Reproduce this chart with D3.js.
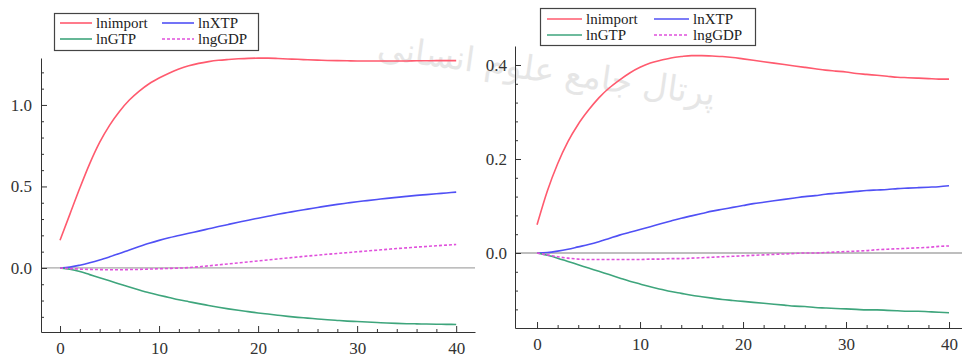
<!DOCTYPE html>
<html>
<head>
<meta charset="utf-8">
<script src="https://cdn.jsdelivr.net/npm/d3@7/dist/d3.min.js"></script>
<style>
  html, body { margin: 0; padding: 0; background: #fff; }
  svg { display: block; }
</style>
</head>
<body>
<div id="app"></div>
<script>
// impulse responses, periods 0..40
const periods = d3.range(0, 41);
const seriesNames = ["lnimport", "lnXTP", "lnGTP", "lngGDP"];

// left panel
const leftImport = [0.17, 0.33, 0.49, 0.64, 0.77, 0.875, 0.96, 1.03, 1.085, 1.13, 1.165, 1.195, 1.22, 1.24, 1.255, 1.266, 1.274, 1.279, 1.283, 1.286, 1.287, 1.287, 1.285, 1.282, 1.28, 1.277, 1.275, 1.273, 1.272, 1.271, 1.27, 1.27, 1.27, 1.27, 1.27, 1.27, 1.271, 1.271, 1.272, 1.272, 1.272];
const leftXTP = [0, 0.005, 0.017, 0.032, 0.049, 0.068, 0.088, 0.11, 0.131, 0.151, 0.169, 0.185, 0.199, 0.213, 0.226, 0.24, 0.254, 0.267, 0.28, 0.293, 0.305, 0.317, 0.329, 0.34, 0.351, 0.361, 0.371, 0.381, 0.39, 0.398, 0.406, 0.413, 0.42, 0.427, 0.433, 0.439, 0.445, 0.45, 0.455, 0.46, 0.465];
const leftGTP = [0, -0.008, -0.022, -0.041, -0.06, -0.079, -0.098, -0.117, -0.135, -0.152, -0.167, -0.181, -0.195, -0.207, -0.219, -0.23, -0.241, -0.251, -0.26, -0.268, -0.276, -0.283, -0.29, -0.297, -0.303, -0.308, -0.313, -0.318, -0.322, -0.326, -0.329, -0.332, -0.335, -0.338, -0.34, -0.342, -0.343, -0.344, -0.345, -0.346, -0.347];
const leftGDP = [0, -0.004, -0.007, -0.009, -0.01, -0.011, -0.011, -0.01, -0.009, -0.007, -0.005, -0.003, -0.001, 0.002, 0.007, 0.013, 0.019, 0.025, 0.031, 0.037, 0.043, 0.049, 0.055, 0.061, 0.067, 0.073, 0.078, 0.084, 0.089, 0.094, 0.099, 0.104, 0.109, 0.114, 0.119, 0.123, 0.128, 0.132, 0.136, 0.14, 0.144];

// right panel
const rightImport = [0.06, 0.132, 0.19, 0.237, 0.274, 0.304, 0.33, 0.351, 0.368, 0.383, 0.395, 0.404, 0.41, 0.415, 0.418, 0.42, 0.42, 0.419, 0.418, 0.416, 0.413, 0.41, 0.407, 0.404, 0.401, 0.398, 0.395, 0.392, 0.389, 0.387, 0.385, 0.382, 0.38, 0.378, 0.376, 0.374, 0.373, 0.372, 0.371, 0.37, 0.37];
const rightXTP = [0, 0.001, 0.004, 0.008, 0.013, 0.018, 0.024, 0.031, 0.038, 0.044, 0.05, 0.056, 0.062, 0.068, 0.074, 0.079, 0.084, 0.089, 0.093, 0.097, 0.101, 0.105, 0.108, 0.111, 0.114, 0.117, 0.12, 0.122, 0.125, 0.127, 0.129, 0.131, 0.133, 0.134, 0.135, 0.137, 0.138, 0.139, 0.14, 0.141, 0.143];
const rightGTP = [0, -0.005, -0.011, -0.018, -0.025, -0.032, -0.039, -0.046, -0.053, -0.06, -0.066, -0.072, -0.077, -0.082, -0.086, -0.09, -0.093, -0.096, -0.099, -0.101, -0.103, -0.105, -0.107, -0.109, -0.111, -0.113, -0.114, -0.116, -0.117, -0.118, -0.119, -0.12, -0.121, -0.121, -0.122, -0.123, -0.124, -0.124, -0.125, -0.126, -0.127];
const rightGDP = [0, -0.004, -0.008, -0.011, -0.013, -0.014, -0.014, -0.014, -0.014, -0.014, -0.014, -0.013, -0.013, -0.012, -0.012, -0.011, -0.01, -0.009, -0.008, -0.007, -0.006, -0.005, -0.004, -0.003, -0.002, -0.001, 0, 0, 0.001, 0.002, 0.003, 0.004, 0.005, 0.007, 0.008, 0.009, 0.01, 0.011, 0.012, 0.014, 0.015];

// ticks
const xTicks = [0, 10, 20, 30, 40];
const xMinor = [2, 4, 6, 8, 12, 14, 16, 18, 22, 24, 26, 28, 32, 34, 36, 38];
const leftYTicks = [0, 0.5, 1.0];
const leftYMinor = [-0.3, -0.2, -0.1, 0.1, 0.2, 0.3, 0.4, 0.6, 0.7, 0.8, 0.9, 1.1, 1.2];
const rightYTicks = [0, 0.2, 0.4];
const rightYMinor = [-0.12, -0.08, -0.04, 0.04, 0.08, 0.12, 0.16, 0.24, 0.28, 0.32, 0.36];

const colors = ["#ff5a6e", "#5050f5", "#3ea57c", "#e050dc"];
const dashes = [null, null, null, "3,2"];
const serif = "'Liberation Serif', 'Times New Roman', Times, serif";

const width = 962, height = 359;

const svg = d3.select("#app").append("svg")
  .attr("width", width)
  .attr("height", height)
  .attr("viewBox", [0, 0, width, height]);

// faint watermark from the scanned source
svg.append("text")
  .attr("x", 545).attr("y", 82)
  .attr("transform", "rotate(8,545,82)")
  .attr("text-anchor", "middle")
  .style("font-family", "'DejaVu Sans', sans-serif")
  .attr("font-size", 34)
  .attr("fill", "#dadada")
  .attr("opacity", 0.65)
  .text("پرتال جامع علوم انسانی");

const panels = [
  {
    series: [leftImport, leftXTP, leftGTP, leftGDP],
    xDomain: [-1.92, 41.9], xRange: [41, 475],
    yDomain: [-0.393, 1.288], yRange: [332, 58],
    yTicks: leftYTicks, yMinor: leftYMinor, labelPad: 9,
    legend: { x: 54, y: 13, w: 204, h: 37, rows: [23, 39], cols: [60, 162], line: 32 }
  },
  {
    series: [rightImport, rightXTP, rightGTP, rightGDP],
    xDomain: [-2.14, 41.26], xRange: [515, 962],
    yDomain: [-0.1596, 0.4404], yRange: [328, 46],
    yTicks: rightYTicks, yMinor: rightYMinor, labelPad: 8,
    legend: { x: 540, y: 8, w: 215, h: 37, rows: [19, 35], cols: [547, 654], line: 35 }
  }
];

function styleAxis(g) {
  g.selectAll("path, line").attr("stroke", "#333");
  g.selectAll("text")
    .attr("fill", "#333")
    .style("font-family", serif)
    .style("font-size", "17px");
}

panels.forEach((p) => {
  const x = d3.scaleLinear().domain(p.xDomain).range(p.xRange);
  const y = d3.scaleLinear().domain(p.yDomain).range(p.yRange);
  const g = svg.append("g");

  // zero reference line
  g.append("line")
    .attr("x1", p.xRange[0]).attr("x2", p.xRange[1])
    .attr("y1", y(0)).attr("y2", y(0))
    .attr("stroke", "#a8a8a8")
    .attr("stroke-width", 1.3);

  const line = d3.line()
    .x((d, i) => x(periods[i]))
    .y((d) => y(d))
    .curve(d3.curveMonotoneX);

  g.selectAll("path.series")
    .data(p.series)
    .join("path")
    .attr("class", "series")
    .attr("fill", "none")
    .attr("stroke", (d, i) => colors[i])
    .attr("stroke-width", 1.6)
    .attr("stroke-dasharray", (d, i) => dashes[i])
    .attr("d", line);

  // axes: minor ticks, then labelled majors
  g.append("g")
    .attr("transform", `translate(0,${p.yRange[0]})`)
    .call(d3.axisBottom(x).tickValues(xMinor).tickSize(-3).tickSizeOuter(0).tickFormat(""))
    .call(styleAxis);
  g.append("g")
    .attr("transform", `translate(0,${p.yRange[0]})`)
    .call(d3.axisBottom(x).tickValues(xTicks).tickSize(-6).tickSizeOuter(0).tickPadding(10).tickFormat(d3.format("d")))
    .call(styleAxis)
    .call((a) => a.select(".domain").remove());

  g.append("g")
    .attr("transform", `translate(${p.xRange[0]},0)`)
    .call(d3.axisLeft(y).tickValues(p.yMinor).tickSize(-3).tickSizeOuter(0).tickFormat(""))
    .call(styleAxis);
  g.append("g")
    .attr("transform", `translate(${p.xRange[0]},0)`)
    .call(d3.axisLeft(y).tickValues(p.yTicks).tickSize(-6).tickSizeOuter(0).tickPadding(p.labelPad).tickFormat(d3.format(".1f")))
    .call(styleAxis)
    .call((a) => a.select(".domain").remove());

  // legend
  const L = p.legend;
  const lg = g.append("g");
  lg.append("rect")
    .attr("x", L.x + 0.5).attr("y", L.y + 0.5)
    .attr("width", L.w).attr("height", L.h)
    .attr("fill", "#fff")
    .attr("stroke", "#444")
    .attr("stroke-width", 1.2);

  const items = lg.selectAll("g.item")
    .data(seriesNames)
    .join("g")
    .attr("class", "item")
    .attr("transform", (d, i) => `translate(${L.cols[i % 2]},${L.rows[Math.floor(i / 2)]})`);
  items.append("line")
    .attr("x1", 0).attr("x2", L.line)
    .attr("stroke", (d, i) => colors[i])
    .attr("stroke-width", 1.6)
    .attr("stroke-dasharray", (d, i) => dashes[i]);
  items.append("text")
    .attr("x", L.line + 4)
    .attr("dy", "0.32em")
    .style("font-family", serif)
    .style("font-size", "15px")
    .attr("fill", "#222")
    .text((d) => d);
});
</script>
</body>
</html>
